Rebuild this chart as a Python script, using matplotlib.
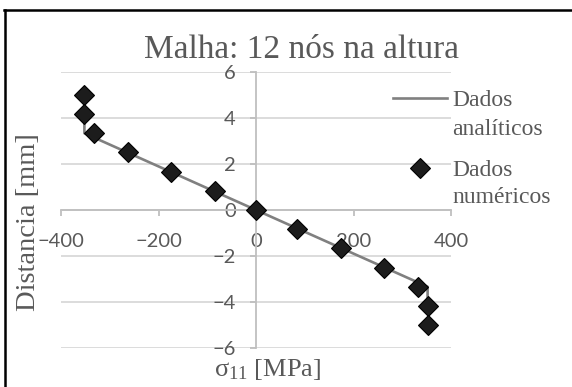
import matplotlib
matplotlib.use('Agg')
import matplotlib.pyplot as plt
from matplotlib.lines import Line2D

# ---- data ----
num_sigma = [-352, -352, -333, -263, -174, -85, 0, 85, 174, 263, 333, 352, 352]
num_dist = [5.0, 4.17, 3.33, 2.5, 1.67, 0.83, 0.0, -0.83, -1.67, -2.5, -3.33, -4.17, -5.0]
ana_sigma = [-352, -352, 352, 352]
ana_dist = [4.17, 3.33, -3.33, -4.17]
x_ticks = [-400, -200, 0, 200, 400]
y_ticks = [-6, -4, -2, 0, 2, 4, 6]
title = 'Malha: 12 nós na altura'
xlabel = r'$\sigma_{11}$ [MPa]'
ylabel = 'Distancia [mm]'
leg_first = ['Dados', 'Dados']
leg_second = ['analíticos', 'numéricos']

W, H = 572, 387
SERIF = 'Liberation Serif'
TXT = '#595959'
plt.rcParams['font.family'] = ['Lato', 'DejaVu Sans']
plt.rcParams['mathtext.fontset'] = 'custom'
plt.rcParams['mathtext.rm'] = SERIF
plt.rcParams['mathtext.it'] = SERIF
plt.rcParams['mathtext.bf'] = SERIF

fig = plt.figure(figsize=(W / 100, H / 100), dpi=100)
ax_l, ax_r, ax_t, ax_b = 61, 451, 71.7, 348.3
ax = fig.add_axes([ax_l / W, 1 - ax_b / H, (ax_r - ax_l) / W, (ax_b - ax_t) / H])

line, = ax.plot(ana_sigma, ana_dist, color='#808080', lw=1.9, zorder=3)
pts, = ax.plot(num_sigma, num_dist, linestyle='none', marker='D', ms=10,
               mfc='#1c1c1c', mec='#000000', mew=0.8, zorder=4)

ax.set_xlim(-400, 400)
ax.set_ylim(-6, 6)
ax.set_xticks(x_ticks)
ax.set_yticks(y_ticks)
ax.grid(axis='y', color='#d9d9d9', lw=1.3)
ax.set_axisbelow(True)
for s in ['top', 'right']:
    ax.spines[s].set_visible(False)
ax.spines['left'].set_position(('data', 0))
ax.spines['bottom'].set_position(('data', 0))
for s in ['left', 'bottom']:
    ax.spines[s].set_color('#bfbfbf')
    ax.spines[s].set_linewidth(1.3)
ax.tick_params(direction='out', length=4.5, width=1.3, color='#bfbfbf',
               labelcolor=TXT, labelsize=14.5)
ax.tick_params(axis='x', pad=12)
ax.tick_params(axis='y', pad=10)

ax.set_xlabel(xlabel, fontsize=19, color=TXT, family=SERIF, va='baseline', ha='center')
ax.xaxis.set_label_coords((268 - ax_l) / (ax_r - ax_l), (ax_b - 376) / (ax_b - ax_t))
ax.set_ylabel(ylabel, fontsize=20.5, color=TXT, family=SERIF, va='center', ha='center')
ax.yaxis.set_label_coords((29 - ax_l) / (ax_r - ax_l), (ax_b - 222) / (ax_b - ax_t))

fig.text(301 / W, 1 - 58.5 / H, title, fontsize=24, color=TXT, family=SERIF,
         ha='center', va='baseline')

# legend (two one-entry legends, second text line added below)
fs = 17
fpx = fs * 100 / 72
leg_kw = dict(frameon=False, loc='center left', borderpad=0, borderaxespad=0,
              handlelength=54 / fpx, handletextpad=5 / fpx,
              prop={'family': SERIF, 'size': fs}, labelcolor=TXT)
leg1 = ax.legend([line], [leg_first[0]], bbox_to_anchor=(393 / W, 1 - 100 / H),
                 bbox_transform=fig.transFigure, **leg_kw)
ax.add_artist(leg1)
leg2 = ax.legend([pts], [leg_first[1]], bbox_to_anchor=(393 / W, 1 - 170 / H),
                 bbox_transform=fig.transFigure, **leg_kw)

fig.canvas.draw()
for lg, txt, ybase in [(leg1, leg_second[0], 135), (leg2, leg_second[1], 203)]:
    x0 = lg.get_texts()[0].get_window_extent().x0
    fig.text(x0 / W, 1 - ybase / H, txt, fontsize=fs, color=TXT, family=SERIF,
             ha='left', va='baseline')

# outer frame (top and left edges visible)
fig.add_artist(Line2D([5 / W, 5 / W], [0, 1 - 9.5 / H], color='black', lw=1.8,
                      transform=fig.transFigure))
fig.add_artist(Line2D([4 / W, 1], [1 - 9.5 / H, 1 - 9.5 / H], color='black', lw=1.8,
                      transform=fig.transFigure))

fig.savefig('out.png', dpi=100)
